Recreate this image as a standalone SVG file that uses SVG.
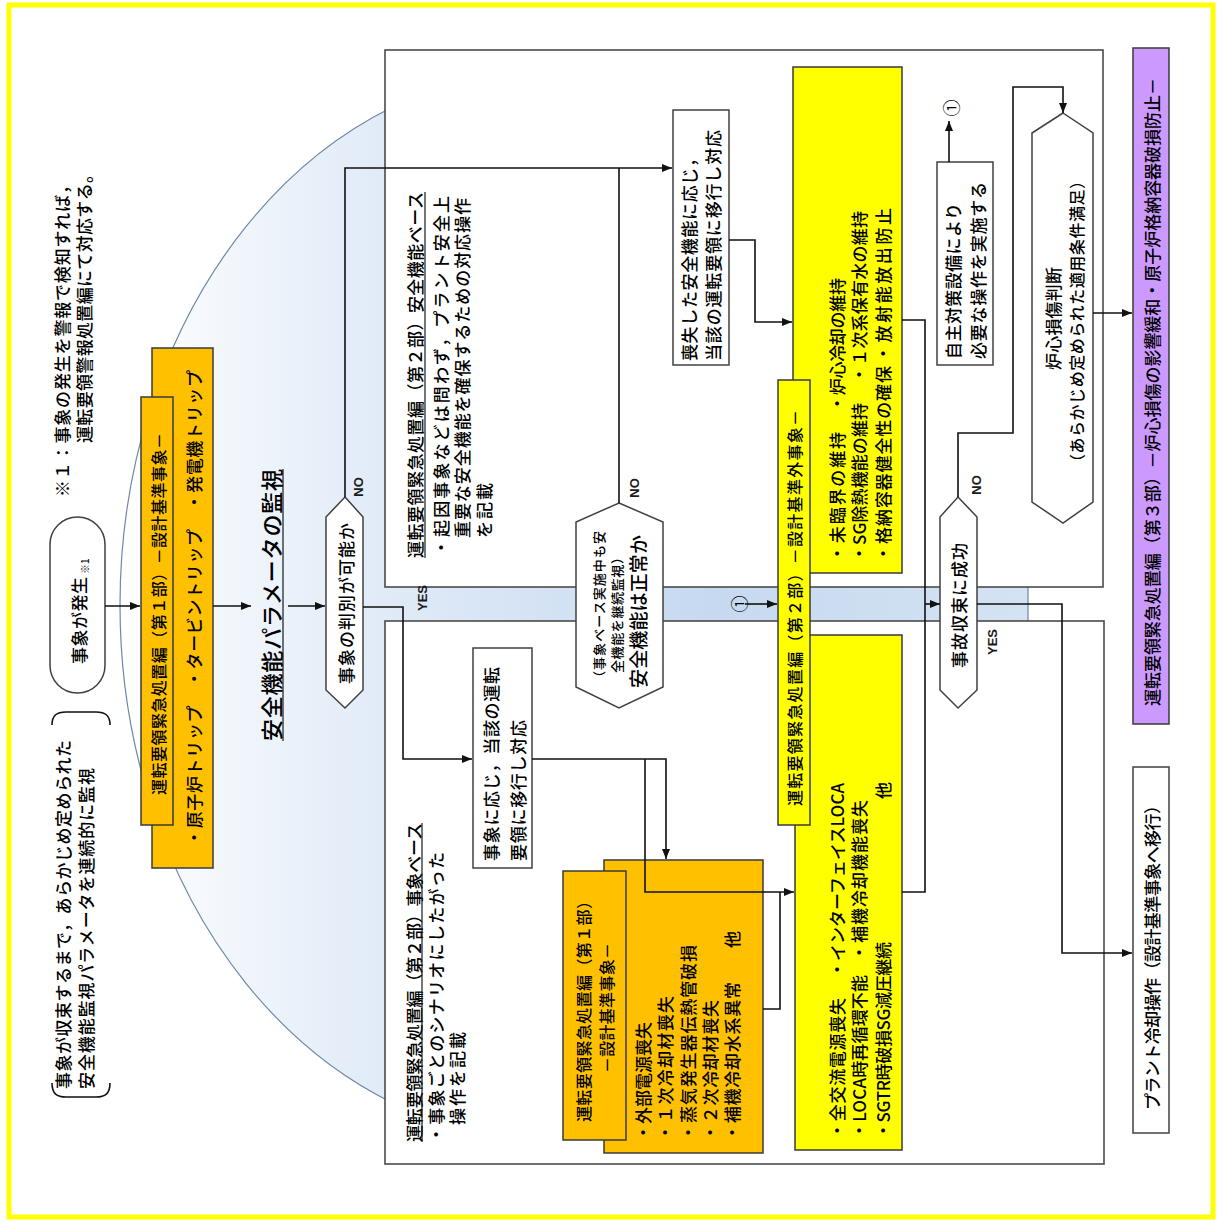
<svg xmlns="http://www.w3.org/2000/svg" width="1218" height="1222" viewBox="0 0 1218 1222">
<style>
.t{font-family:"Noto Sans CJK JP","Noto Sans",sans-serif;font-size:17px;font-weight:500;fill:#000;dominant-baseline:central}
.s{font-size:13px}
.h{font-size:16px}
.lbl{font-family:"Liberation Sans","DejaVu Sans",sans-serif;font-size:13px;font-weight:bold;fill:#1a1a1a;dominant-baseline:central;text-anchor:middle}
.bx{fill:#fff;stroke:#404040;stroke-width:1.5}
.big{fill:#fff;stroke:#4a4a4a;stroke-width:1.6}
.org{fill:#FFC000;stroke:#3a3a3a;stroke-width:1.5}
.yel{fill:#FFFF00;stroke:#3a3a3a;stroke-width:1.5}
.pur{fill:#CC99FF;stroke:#3a3a3a;stroke-width:1.5}
.ln{fill:none;stroke:#111;stroke-width:1.6}
.ul{stroke:#1a1a1a;stroke-width:1.2}
</style>
<defs>
<linearGradient id="bg" gradientUnits="userSpaceOnUse" x1="120" y1="0" x2="1028" y2="0">
<stop offset="0" stop-color="#ffffff"/>
<stop offset="0.25" stop-color="#e4edf8"/>
<stop offset="0.65" stop-color="#c6d9f0"/>
<stop offset="1" stop-color="#d4e3f3"/>
</linearGradient>
<marker id="ar" markerUnits="userSpaceOnUse" markerWidth="11" markerHeight="9" refX="10" refY="4" orient="auto">
<path d="M0,0 L10,4 L0,8 z" fill="#111"/>
</marker>
</defs>
<rect x="9" y="5" width="1204" height="1212" fill="#fff" stroke="#FFFF00" stroke-width="5"/>
<g id="background-dome">
<path d="M1028,70 L550,70 A430,535 0 0 0 550,1140 L1028,1140 Z" fill="url(#bg)" stroke="#6d88a8" stroke-width="1.2"/>
</g>
<g id="safety-function-base">
<rect class="big" x="385" y="50" width="718" height="537"/>
<text class="t" transform="translate(414,558) rotate(-90)" textLength="366" lengthAdjust="spacing">運転要領緊急処置編（第２部）安全機能ベース</text>
<line class="ul" x1="425" y1="558" x2="425" y2="192"/>
<text class="t" transform="translate(440,556) rotate(-90)" textLength="360" lengthAdjust="spacing">・起因事象などは問わず，プラント安全上</text>
<text class="t" transform="translate(461,538) rotate(-90)" textLength="340" lengthAdjust="spacing">重要な安全機能を確保するための対応操作</text>
<text class="t" transform="translate(483,538) rotate(-90)" textLength="55" lengthAdjust="spacing">を記載</text>
</g>
<g id="event-base">
<rect class="big" x="385" y="621" width="719" height="543"/>
<text class="t" transform="translate(413,1142) rotate(-90)" textLength="319" lengthAdjust="spacing">運転要領緊急処置編（第２部）事象ベース</text>
<line class="ul" x1="422" y1="1142" x2="422" y2="823"/>
<text class="t" transform="translate(435,1143) rotate(-90)" textLength="291" lengthAdjust="spacing">・事象ごとのシナリオにしたがった</text>
<text class="t" transform="translate(456,1125) rotate(-90)" textLength="93" lengthAdjust="spacing">操作を記載</text>
</g>
<g id="note-alarm">
<text class="t" transform="translate(61,497) rotate(-90)" textLength="320" lengthAdjust="spacing">※１：事象の発生を警報で検知すれば，</text>
<text class="t" transform="translate(83,443) rotate(-90)" textLength="277" lengthAdjust="spacing">運転要領警報処置編にて対応する。</text>
</g>
<g id="note-monitor">
<path class="ln" d="M52,1083 C52,1094 57,1097 66,1097 L96,1097 C105,1097 110,1094 110,1083" stroke="#333" stroke-width="1.5"/>
<path class="ln" d="M52,725 C52,715 57,712 66,712 L96,712 C105,712 110,715 110,725" stroke="#333" stroke-width="1.5"/>
<text class="t" transform="translate(62,1089) rotate(-90)" textLength="349" lengthAdjust="spacing">事象が収束するまで，あらかじめ定められた</text>
<text class="t" transform="translate(85,1089) rotate(-90)" textLength="321" lengthAdjust="spacing">安全機能監視パラメータを連続的に監視</text>
</g>
<g id="event-occurs">
<rect class="bx" x="50" y="517" width="55" height="176" rx="27.5" ry="27.5"/>
<text class="t" transform="translate(78,664) rotate(-90)" textLength="87" lengthAdjust="spacing">事象が発生</text>
<text class="t" style="font-size:10px" transform="translate(84,574) rotate(-90)">※1</text>
</g>
<g id="dba-part1-top">
<rect class="org" x="152" y="348" width="61" height="520"/>
<rect class="org" x="141" y="397" width="32" height="428"/>
<text class="t h" transform="translate(158,795) rotate(-90)" textLength="362" lengthAdjust="spacing">運転要領緊急処置編（第１部）－設計基準事象－</text>
<text class="t" transform="translate(193,846) rotate(-90)" textLength="476" lengthAdjust="spacing">・原子炉トリップ　・タービントリップ　・発電機トリップ</text>
</g>
<g id="monitor-title">
<text class="t" style="font-size:22px" transform="translate(270,741) rotate(-90)" textLength="272" lengthAdjust="spacing">安全機能パラメータの監視</text>
<line class="ul" x1="283" y1="741" x2="283" y2="469"/>
</g>
<g id="decision-identify">
<path class="bx" d="M345,497 L363,517 L363,690 L345,708 L326,690 L326,517 Z"/>
<text class="t" transform="translate(345,684) rotate(-90)" textLength="161" lengthAdjust="spacing">事象の判別が可能か</text>
</g>
<g id="decision-safety-normal">
<path class="bx" d="M619,503 L663,522 L663,687 L619,708 L576,687 L576,522 Z"/>
<text class="t s" transform="translate(598,684) rotate(-90)" textLength="153" lengthAdjust="spacing">（事象ベース実施中も安</text>
<text class="t s" transform="translate(616,673) rotate(-90)" textLength="122" lengthAdjust="spacing">全機能を継続監視）</text>
<text class="t" style="font-size:19px" transform="translate(637,688) rotate(-90)" textLength="153" lengthAdjust="spacing">安全機能は正常か</text>
</g>
<g id="box-lost-function">
<rect class="bx" x="673" y="110" width="56" height="255"/>
<text class="t" transform="translate(688,361) rotate(-90)" textLength="211" lengthAdjust="spacing">喪失した安全機能に応じ，</text>
<text class="t" transform="translate(712,361) rotate(-90)" textLength="231" lengthAdjust="spacing">当該の運転要領に移行し対応</text>
</g>
<g id="box-event-response">
<rect class="bx" x="473" y="648" width="59" height="220"/>
<text class="t" transform="translate(490,861) rotate(-90)" textLength="194" lengthAdjust="spacing">事象に応じ，当該の運転</text>
<text class="t" transform="translate(517,861) rotate(-90)" textLength="141" lengthAdjust="spacing">要領に移行し対応</text>
</g>
<g id="dba-part1-bottom">
<rect class="org" x="604" y="860" width="159" height="293"/>
<rect class="org" x="563" y="871" width="63" height="269"/>
<text class="t h" transform="translate(583,1122) rotate(-90)" textLength="229" lengthAdjust="spacing">運転要領緊急処置編（第１部）</text>
<text class="t h" transform="translate(606,1073) rotate(-90)" textLength="130" lengthAdjust="spacing">－設計基準事象－</text>
<text class="t" transform="translate(642,1141) rotate(-90)" textLength="119" lengthAdjust="spacing">・外部電源喪失</text>
<text class="t" transform="translate(664,1141) rotate(-90)" textLength="145" lengthAdjust="spacing">・１次冷却材喪失</text>
<text class="t" transform="translate(687,1141) rotate(-90)" textLength="196" lengthAdjust="spacing">・蒸気発生器伝熱管破損</text>
<text class="t" transform="translate(709,1141) rotate(-90)" textLength="141" lengthAdjust="spacing">・２次冷却材喪失</text>
<text class="t" transform="translate(731,1141) rotate(-90)" textLength="159" lengthAdjust="spacing">・補機冷却水系異常</text>
<text class="t" transform="translate(731,948) rotate(-90)">他</text>
</g>
<g id="bdba-part2">
<rect class="yel" x="793" y="67" width="109" height="506"/>
<rect class="yel" x="795" y="635" width="107" height="515"/>
<rect class="yel" x="778" y="380" width="32" height="445"/>
<text class="t h" transform="translate(794,806) rotate(-90)" textLength="396" lengthAdjust="spacing">運転要領緊急処置編（第２部）－設計基準外事象－</text>
<text class="t" transform="translate(836,562) rotate(-90)" textLength="130" lengthAdjust="spacing">・未臨界の維持</text>
<text class="t" transform="translate(836,412) rotate(-90)" textLength="134" lengthAdjust="spacing">・炉心冷却の維持</text>
<text class="t" transform="translate(858,562) rotate(-90)" textLength="159" lengthAdjust="spacing">・SG除熱機能の維持</text>
<text class="t" transform="translate(858,383) rotate(-90)" textLength="172" lengthAdjust="spacing">・１次系保有水の維持</text>
<text class="t" transform="translate(882,562) rotate(-90)" textLength="196" lengthAdjust="spacing">・格納容器健全性の確保</text>
<text class="t" transform="translate(882,362) rotate(-90)" textLength="154" lengthAdjust="spacing">・放射能放出防止</text>
<text class="t" transform="translate(836,1139) rotate(-90)" textLength="141" lengthAdjust="spacing">・全交流電源喪失</text>
<text class="t" transform="translate(836,978) rotate(-90)" textLength="195" lengthAdjust="spacing">・インターフェイスLOCA</text>
<text class="t" transform="translate(858,1139) rotate(-90)" textLength="164" lengthAdjust="spacing">・LOCA時再循環不能</text>
<text class="t" transform="translate(858,961) rotate(-90)" textLength="161" lengthAdjust="spacing">・補機冷却機能喪失</text>
<text class="t" transform="translate(882,1139) rotate(-90)" textLength="197" lengthAdjust="spacing">・SGTR時破損SG減圧継続</text>
<text class="t" transform="translate(882,799) rotate(-90)">他</text>
</g>
<g id="decision-converged">
<path class="bx" d="M958,497 L977,517 L977,690 L958,708 L940,690 L940,517 Z"/>
<text class="t" transform="translate(958,668) rotate(-90)" textLength="125" lengthAdjust="spacing">事故収束に成功</text>
</g>
<g id="box-voluntary">
<rect class="bx" x="937" y="162" width="56" height="203"/>
<text class="t" transform="translate(952,359) rotate(-90)" textLength="156" lengthAdjust="spacing">自主対策設備により</text>
<text class="t" transform="translate(977,359) rotate(-90)" textLength="177" lengthAdjust="spacing">必要な操作を実施する</text>
</g>
<g id="decision-core-damage">
<path class="bx" d="M1063,113 L1093,133 L1093,502 L1063,523 L1032,502 L1032,133 Z"/>
<text class="t" transform="translate(1052,370) rotate(-90)" textLength="103" lengthAdjust="spacing">炉心損傷判断</text>
<text class="t h" transform="translate(1076,470) rotate(-90)" textLength="297" lengthAdjust="spacing">（あらかじめ定められた適用条件満足）</text>
</g>
<g id="part3">
<rect class="pur" x="1133" y="48" width="36" height="676"/>
<text class="t" transform="translate(1151,706) rotate(-90)" textLength="628" lengthAdjust="spacing">運転要領緊急処置編（第３部）－炉心損傷の影響緩和・原子炉格納容器破損防止－</text>
</g>
<g id="plant-cooling">
<rect class="bx" x="1133" y="767" width="36" height="366"/>
<text class="t" transform="translate(1151,1110) rotate(-90)" textLength="313" lengthAdjust="spacing">プラント冷却操作（設計基準事象へ移行）</text>
</g>
<g id="connectors">
<path class="ln" d="M105,606 L140,606" marker-end="url(#ar)"/>
<path class="ln" d="M213,606 L251,606" marker-end="url(#ar)"/>
<path class="ln" d="M288,606 L325,606" marker-end="url(#ar)"/>
<path class="ln" d="M345,497 L345,168 L672,168" marker-end="url(#ar)"/>
<path class="ln" d="M619,503 L619,168"/>
<path class="ln" d="M363,607 L403,607 L403,759 L472,759" marker-end="url(#ar)"/>
<path class="ln" d="M729,240 L755,240 L755,322 L792,322" marker-end="url(#ar)"/>
<path class="ln" d="M532,759 L666,759 L666,859" marker-end="url(#ar)"/>
<path class="ln" d="M645,759 L645,892 L794,892" marker-end="url(#ar)"/>
<path class="ln" d="M763,1009 L780,1009 L780,892"/>
<path class="ln" d="M745,604 L777,604" marker-end="url(#ar)"/>
<path class="ln" d="M902,320 L925,320 L925,892 L902,892"/>
<path class="ln" d="M925,604 L940,604" marker-end="url(#ar)"/>
<path class="ln" d="M958,497 L958,433 L1013,433 L1013,87 L1063,87 L1063,113" marker-end="url(#ar)"/>
<path class="ln" d="M977,604 L1062,604 L1062,953 L1132,953" marker-end="url(#ar)"/>
<path class="ln" d="M1093,313 L1132,313" marker-end="url(#ar)"/>
<path class="ln" d="M949,162 L949,121" marker-end="url(#ar)"/>
<text class="lbl" transform="translate(358,487) rotate(-90)">NO</text>
<text class="lbl" transform="translate(634,488) rotate(-90)">NO</text>
<text class="lbl" transform="translate(976,485) rotate(-90)">NO</text>
<text class="lbl" transform="translate(422,598) rotate(-90)">YES</text>
<text class="lbl" transform="translate(992,642) rotate(-90)">YES</text>
<text class="t" style="font-size:17px;font-weight:400;text-anchor:middle" transform="translate(738,604) rotate(-90)">①</text>
<text class="t" style="font-size:17px;font-weight:400;text-anchor:middle" transform="translate(950,108) rotate(-90)">①</text>
</g>
</svg>
